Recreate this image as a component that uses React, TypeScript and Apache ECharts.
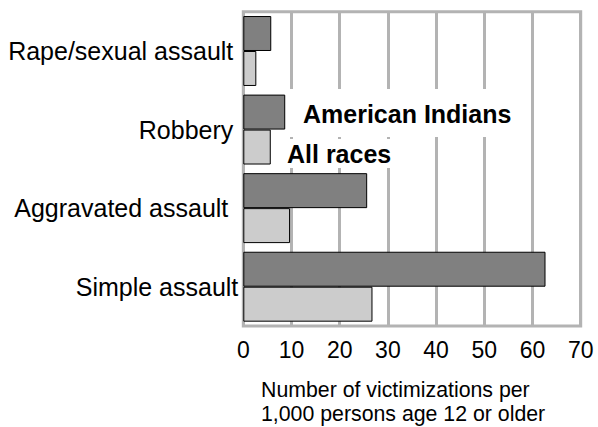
import React, { useEffect, useRef } from "react";
import * as echarts from "echarts";

const categories = ["Rape/sexual assault", "Robbery", "Aggravated assault", "Simple assault"];
const americanIndians = [5.8, 8.7, 25.7, 62.7];
const allRaces = [2.7, 5.7, 9.7, 26.8];
const xTicks = { min: 0, max: 70, interval: 10 };
const axisTitle = "Number of victimizations per\n1,000 persons age 12 or older";

const FONT = "Liberation Sans, Arial, Helvetica, sans-serif";
const GRIDC = "#b3b3b3";

export default function App() {
  const ref = useRef<HTMLDivElement>(null);
  useEffect(() => {
    if (!ref.current) return;
    const chart = echarts.init(ref.current, undefined, { renderer: "svg" });
    const labelPad = [5, 5, 10, 0];
    chart.setOption({
      animation: false,
      backgroundColor: "#fff",
      textStyle: { fontFamily: FONT },
      grid: {
        left: 243.3,
        right: 17.3,
        top: 11.7,
        bottom: 101,
        show: true,
        borderColor: GRIDC,
        borderWidth: 3,
        backgroundColor: "transparent",
      },
      xAxis: {
        type: "value",
        min: xTicks.min,
        max: xTicks.max,
        interval: xTicks.interval,
        axisLine: { show: false },
        axisTick: { show: false },
        splitLine: { show: true, lineStyle: { color: GRIDC, width: 3 } },
        axisLabel: { color: "#000", fontSize: 23, fontFamily: FONT, margin: 12 },
      },
      yAxis: {
        type: "category",
        inverse: true,
        data: categories.map((c, i) => ({
          value: c,
          textStyle: { padding: [0, labelPad[i], 0, 0] },
        })),
        axisLine: { show: false },
        axisTick: { show: false },
        splitLine: { show: false },
        axisLabel: { color: "#000", fontSize: 25, fontFamily: FONT, margin: 5 },
      },
      legend: [
        {
          data: ["American Indians"],
          left: 287,
          top: 89,
          padding: [12, 9, 11, 11],
          itemWidth: 0,
          itemHeight: 10,
          itemStyle: { opacity: 0, borderWidth: 0 },
          backgroundColor: "#fff",
          selectedMode: false,
          textStyle: { color: "#000", fontSize: 25, fontWeight: "bold", fontFamily: FONT },
        },
        {
          data: ["All races"],
          left: 275,
          top: 139,
          padding: [2, 3, 2, 7],
          itemWidth: 0,
          itemHeight: 10,
          itemStyle: { opacity: 0, borderWidth: 0 },
          backgroundColor: "#fff",
          selectedMode: false,
          textStyle: { color: "#000", fontSize: 25, fontWeight: "bold", fontFamily: FONT },
        },
      ],
      series: [
        {
          name: "American Indians",
          type: "bar",
          data: americanIndians,
          barGap: "0%",
          barCategoryGap: "11%",
          itemStyle: { color: "#808080", borderColor: "#000", borderWidth: 1 },
        },
        {
          name: "All races",
          type: "bar",
          data: allRaces,
          barGap: "0%",
          barCategoryGap: "11%",
          itemStyle: { color: "#cccccc", borderColor: "#000", borderWidth: 1 },
        },
      ],
      graphic: [
        {
          type: "text",
          left: 261,
          top: 378,
          style: {
            text: axisTitle,
            fill: "#000",
            fontSize: 21.3,
            lineHeight: 24,
            fontFamily: FONT,
            align: "left",
          },
        },
      ],
    });
    return () => chart.dispose();
  }, []);
  return (
    <div
      ref={ref}
      style={{ position: "fixed", left: 0, top: 0, width: 598, height: 427 }}
    />
  );
}
